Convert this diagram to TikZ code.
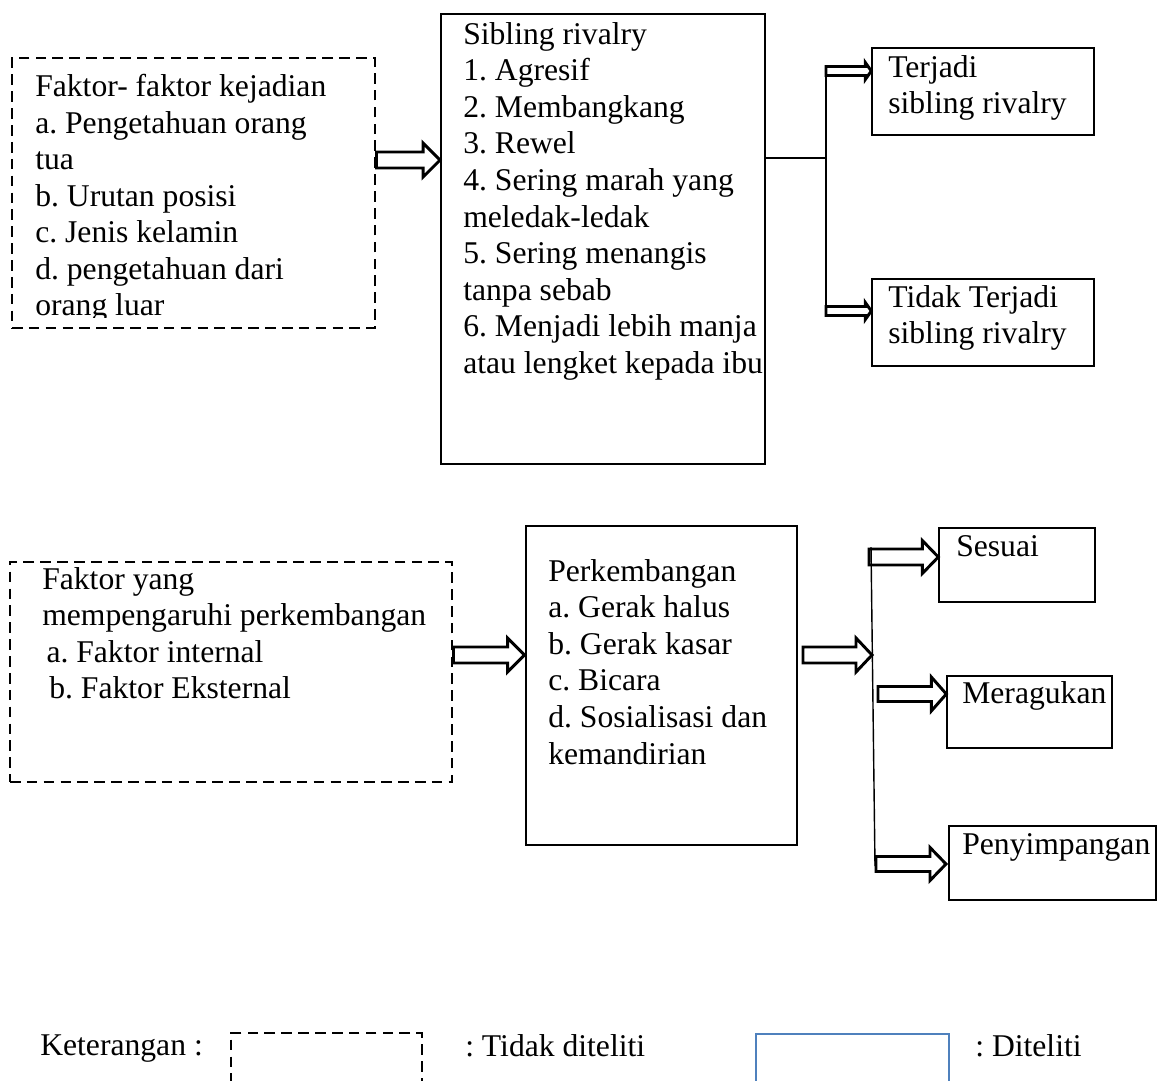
\documentclass[tikz,border=0pt]{standalone}
\usepackage{fontspec}
\setmainfont{Liberation Serif}
\usetikzlibrary{fit}

\definecolor{ketblue}{HTML}{4F81BD}

% open block arrow: start, tip, shaft half height, head half height, head length
\newcommand{\fatarrow}[5]{%
  \draw[arrowline] ([shift={(0,-#3)}]#1) -- ([shift={(-#5,-#3)}]#2) -- ([shift={(-#5,-#4)}]#2) -- (#2)
    -- ([shift={(-#5,#4)}]#2) -- ([shift={(-#5,#3)}]#2) -- ([shift={(0,#3)}]#1) -- cycle;}

\begin{document}
\frenchspacing
\begin{tikzpicture}[x=0.025cm, y=-0.025cm,
  dashbox/.style={draw, line width=2.1pt, dash pattern=on 7.5pt off 4.5pt, inner sep=0pt},
  solidbox/.style={draw, line width=1pt, inner sep=0pt},
  txt/.style={anchor=north west, inner sep=0pt, align=left, font=\fontsize{22.5}{26}\selectfont},
  arrowline/.style={line width=2.1pt, line join=miter},
  thinline/.style={line width=1pt}]
  \clip (0,0) rectangle (1162,1080);

  % upper part: sibling rivalry
  \node[dashbox, fit={(12,58) (375,328)}] (faktor) {};
  \node[solidbox, line width=1.3pt, fit={(441,14) (765,464)}] (sib) {};
  \node[solidbox, fit={(872,48) (1094,135)}] (ter) {};
  \node[solidbox, fit={(872,279) (1094,366)}] (tdk) {};

  \begin{scope}
    \clip (faktor.north west) rectangle (faktor.east |- 0,317);
    \node[txt] (faktortxt) at (35,74) {Faktor- faktor kejadian\\a. Pengetahuan orang\\tua\\b. Urutan posisi\\c. Jenis kelamin\\d. pengetahuan dari\\orang luar};
  \end{scope}
  \node[txt] (sibtxt) at (463,22) {Sibling rivalry\\1. Agresif\\2. Membangkang\\3. Rewel\\4. Sering marah yang\\meledak-ledak\\5. Sering menangis\\tanpa sebab\\6. Menjadi lebih manja\\atau lengket kepada ibu};
  \node[txt] (tertxt) at (888,55) {Terjadi\\sibling rivalry};
  \node[txt] (tdktxt) at (888,285) {Tidak Terjadi\\sibling rivalry};

  \coordinate (a1) at (faktor.east |- 0,160);
  \coordinate (a1tip) at (sib.west |- 0,160);
  \fatarrow{a1}{a1tip}{8}{17}{17}

  \coordinate (brtop) at (826,71);
  \coordinate (brbot) at (826,311);
  \coordinate (brmid) at (brtop |- 0,158);
  \draw[thinline] (sib.east |- brmid) -- (brmid);
  \draw[thinline] (brtop) -- (brbot);
  \coordinate (tertip) at (ter.west |- brtop);
  \coordinate (tdktip) at (tdk.west |- brbot);
  \fatarrow{brtop}{tertip}{4.5}{8.5}{6}
  \fatarrow{brbot}{tdktip}{4.5}{8.5}{6}

  % lower part: perkembangan
  \node[dashbox, fit={(10,562) (452,782)}] (fpk) {};
  \node[solidbox, line width=2.1pt, fit={(526,526) (797,845)}] (perk) {};
  \node[solidbox, fit={(939,528) (1095,602)}] (ses) {};
  \node[solidbox, fit={(947,676) (1112,748)}] (mer) {};
  \node[solidbox, fit={(949,826) (1156,900)}] (pen) {};

  \node[txt] (fpktxt) at (42,567) {Faktor yang\\mempengaruhi perkembangan\\\hspace{3pt}a. Faktor internal\\\hspace{5pt}b. Faktor Eksternal};
  \node[txt] (perktxt) at (548,559) {Perkembangan\\a. Gerak halus\\b. Gerak kasar\\c. Bicara\\d. Sosialisasi dan\\kemandirian};
  \node[txt] (sestxt) at (956,535) {Sesuai};
  \node[txt] (mertxt) at (962,681) {Meragukan};
  \node[txt] (pentxt) at (962,833) {Penyimpangan};

  \coordinate (a2) at (fpk.east |- 0,655);
  \coordinate (a2tip) at (perk.west |- 0,655);
  \fatarrow{a2}{a2tip}{8}{17}{17}

  \coordinate (b2top) at (871,547);
  \coordinate (b2bot) at (875,866);
  \draw[thinline] (b2top) -- (b2bot);
  \coordinate (a3) at (803,655);
  \coordinate (a3tip) at (872,655);
  \fatarrow{a3}{a3tip}{8}{17}{16}

  \coordinate (s0) at (869,557);
  \coordinate (stip) at (ses.west |- s0);
  \fatarrow{s0}{stip}{8}{16.5}{16}
  \coordinate (m0) at (878,694);
  \coordinate (mtip) at (mer.west |- m0);
  \fatarrow{m0}{mtip}{7.5}{17}{15}
  \coordinate (p0) at (876,864);
  \coordinate (ptip) at (946,864);
  \fatarrow{p0}{ptip}{7.5}{16.5}{16}

  % legend
  \node[txt] (ket) at (40,1034) {Keterangan :};
  \node[dashbox, fit={(231,1033) (422,1100)}] (ketdash) {};
  \node[txt] (ketdashtxt) at (465,1034) {: Tidak diteliti};
  \node[solidbox, draw=ketblue, line width=2pt, fit={(756,1034) (949,1100)}] (ketsolid) {};
  \node[txt] (ketsolidtxt) at (975,1034) {: Diteliti};
\end{tikzpicture}
\end{document}
